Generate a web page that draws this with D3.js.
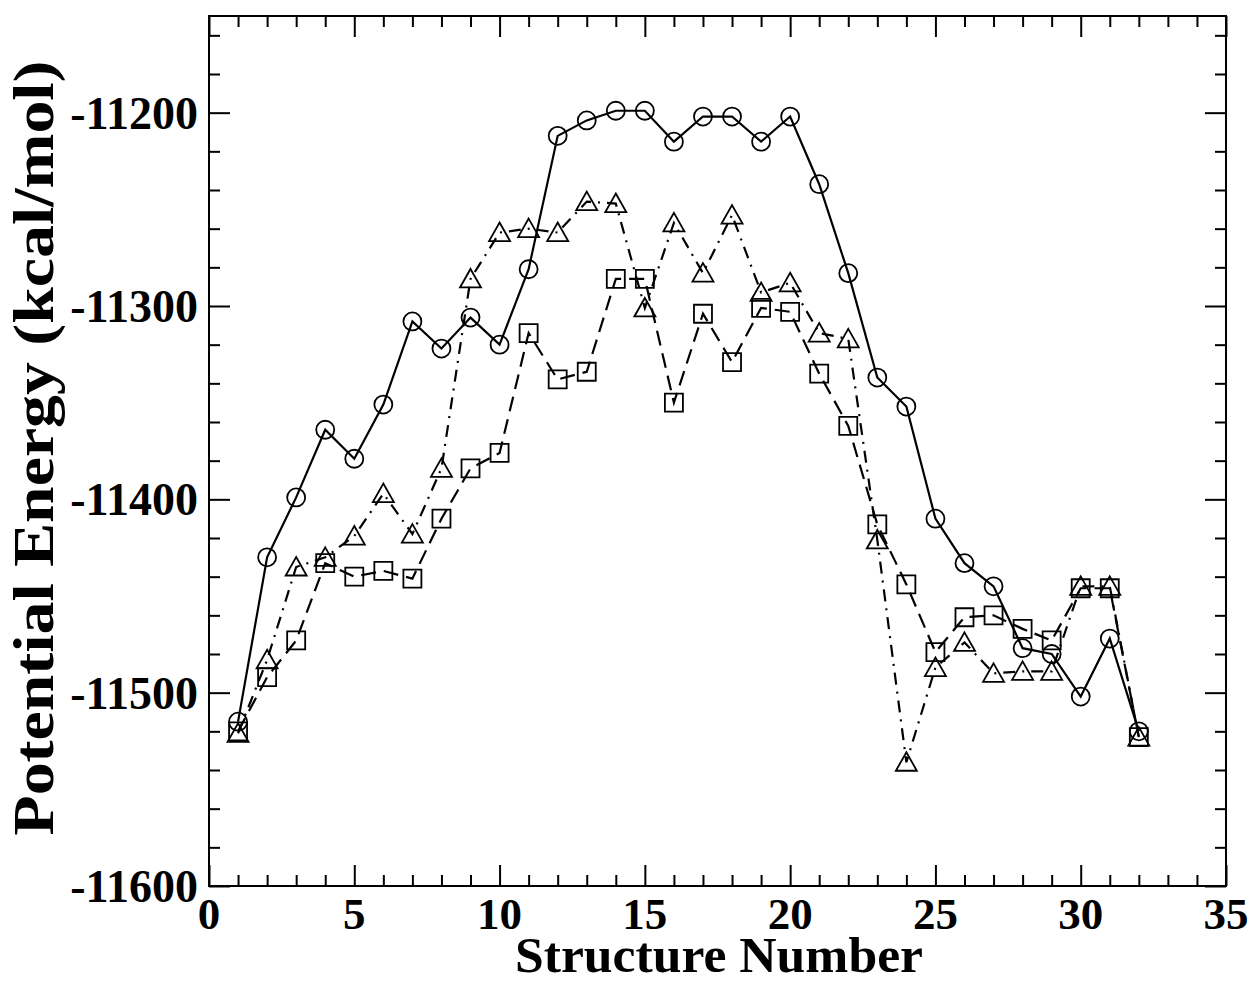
<!DOCTYPE html>
<html>
<head>
<meta charset="utf-8">
<script src="https://cdn.jsdelivr.net/npm/d3@7"></script>
<style>
  body { margin: 0; background: #fff; }
  svg text { font-family: "Liberation Serif", "Times New Roman", serif; font-weight: bold; fill: #000; }
</style>
</head>
<body>
<script>
// structure index 1..32
var structures = d3.range(1, 33);

// circles, solid line
var circleSeries = [-11515, -11430, -11399, -11364, -11379, -11351, -11308, -11322, -11306, -11320,
  -11281, -11212, -11204, -11199, -11199, -11215, -11202, -11202, -11215, -11202,
  -11237, -11283, -11337, -11352, -11410, -11433, -11445, -11477, -11480, -11502,
  -11472, -11520];

// squares, dashed line
var squareSeries = [-11520, -11492, -11473, -11433, -11440, -11437, -11441, -11410, -11384, -11376,
  -11314, -11338, -11334, -11286, -11286, -11350, -11304, -11329, -11301, -11303,
  -11335, -11362, -11413, -11444, -11479, -11461, -11460, -11467, -11473, -11446,
  -11446, -11523];

// triangles, dash-dot line
var triangleSeries = [-11521, -11483, -11435, -11430, -11419, -11397, -11418, -11384, -11286, -11262,
  -11260, -11262, -11246, -11247, -11301, -11257, -11283, -11253, -11293, -11288,
  -11314, -11317, -11421, -11536, -11487, -11474, -11490, -11489, -11489, -11445,
  -11445, -11523];

var xTicks = [0, 5, 10, 15, 20, 25, 30, 35];
var yTicks = [-11600, -11500, -11400, -11300, -11200];

var W = 1253, H = 983;
var m = {left: 209, right: W - 1226, top: 16, bottom: H - 886};

var svg = d3.select("body").append("svg").attr("width", W).attr("height", H);

var x = d3.scaleLinear().domain([0, 35]).range([m.left, W - m.right]);
var y = d3.scaleLinear().domain([-11600, -11150]).range([H - m.bottom, m.top]);

var g = svg.append("g");

// ticks, all pointing inward on four sides
function styleAxis(sel) {
  sel.select(".domain").remove();
  sel.selectAll("line").attr("stroke", "#000").attr("stroke-width", 2);
}
var xMinor = d3.range(0, 36).filter(function(d){ return d % 5 != 0; });
var yMinor = d3.range(-11600, -11140, 20).filter(function(d){ return d % 100 != 0; });

g.append("g").attr("transform", "translate(0," + (H - m.bottom) + ")")
  .call(d3.axisBottom(x).tickValues(xTicks).tickSize(-21).tickFormat("")).call(styleAxis);
g.append("g").attr("transform", "translate(0," + (H - m.bottom) + ")")
  .call(d3.axisBottom(x).tickValues(xMinor).tickSize(-11).tickFormat("")).call(styleAxis);
g.append("g").attr("transform", "translate(0," + m.top + ")")
  .call(d3.axisTop(x).tickValues(xTicks).tickSize(-21).tickFormat("")).call(styleAxis);
g.append("g").attr("transform", "translate(0," + m.top + ")")
  .call(d3.axisTop(x).tickValues(xMinor).tickSize(-11).tickFormat("")).call(styleAxis);
g.append("g").attr("transform", "translate(" + m.left + ",0)")
  .call(d3.axisLeft(y).tickValues(yTicks).tickSize(-21).tickFormat("")).call(styleAxis);
g.append("g").attr("transform", "translate(" + m.left + ",0)")
  .call(d3.axisLeft(y).tickValues(yMinor).tickSize(-11).tickFormat("")).call(styleAxis);
g.append("g").attr("transform", "translate(" + (W - m.right) + ",0)")
  .call(d3.axisRight(y).tickValues(yTicks).tickSize(-21).tickFormat("")).call(styleAxis);
g.append("g").attr("transform", "translate(" + (W - m.right) + ",0)")
  .call(d3.axisRight(y).tickValues(yMinor).tickSize(-11).tickFormat("")).call(styleAxis);

// frame
g.append("rect").attr("x", m.left).attr("y", m.top)
  .attr("width", W - m.right - m.left).attr("height", H - m.bottom - m.top)
  .attr("fill", "none").attr("stroke", "#000").attr("stroke-width", 2);

// tick labels
g.selectAll(".xl").data(xTicks).enter().append("text")
  .attr("x", function(d){ return x(d); }).attr("y", 929)
  .attr("text-anchor", "middle").style("font-size", "45px").text(function(d){ return d; });
g.selectAll(".yl").data(yTicks).enter().append("text")
  .attr("x", 198).attr("y", function(d){ return y(d) + 16; })
  .attr("text-anchor", "end").style("font-size", "46px").text(function(d){ return d; });

// axis titles
g.append("text").attr("x", 719).attr("y", 972).attr("text-anchor", "middle")
  .attr("textLength", 408).attr("lengthAdjust", "spacingAndGlyphs")
  .style("font-size", "50px").text("Structure Number");
g.append("text").attr("transform", "translate(53,448) rotate(-90)").attr("text-anchor", "middle")
  .attr("textLength", 775).attr("lengthAdjust", "spacingAndGlyphs")
  .style("font-size", "58px").text("Potential Energy (kcal/mol)");

// series
var series = [
  {vals: triangleSeries, dash: "12,7,2,7", mark: "tri"},
  {vals: squareSeries, dash: "15,8", mark: "sq"},
  {vals: circleSeries, dash: null, mark: "circ"}
];

var line = d3.line().x(function(d){ return x(d[0]); }).y(function(d){ return y(d[1]); });

series.forEach(function(s) {
  var pts = structures.map(function(n, i){ return [n, s.vals[i]]; });
  g.append("path").datum(pts).attr("d", line)
    .attr("fill", "none").attr("stroke", "#000").attr("stroke-width", 2.2)
    .attr("stroke-dasharray", s.dash);
  var mk = g.append("g").selectAll("path").data(pts).enter().append("path")
    .attr("transform", function(d){ return "translate(" + x(d[0]) + "," + y(d[1]) + ")"; })
    .attr("fill", "none").attr("stroke", "#000").attr("stroke-width", 1.8);
  if (s.mark == "circ") mk.attr("d", "M9,0A9,9 0 1,1 -9,0A9,9 0 1,1 9,0Z");
  else if (s.mark == "sq") mk.attr("d", "M-9,-9H9V9H-9Z");
  else mk.attr("d", "M0,-10L10.5,8.5H-10.5Z");
});
</script>
</body>
</html>
